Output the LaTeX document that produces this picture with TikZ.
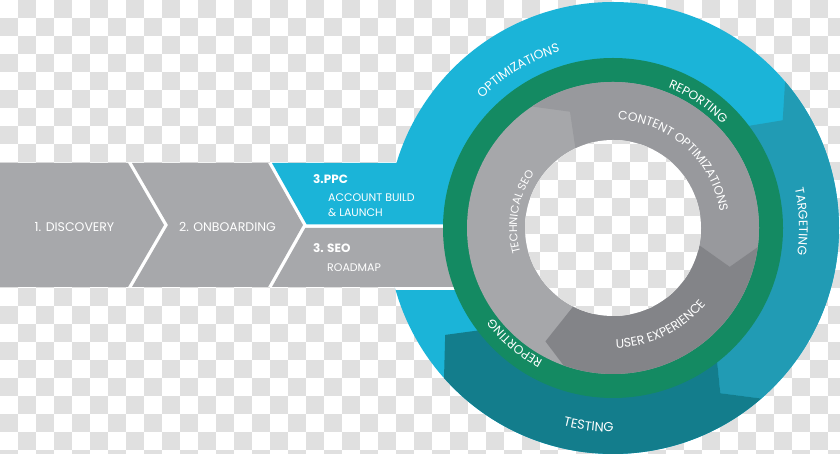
\documentclass[tikz,border=0pt]{standalone}
\usepackage{fontspec}
\setmainfont{Poppins}
\usetikzlibrary{decorations.text}
\definecolor{cLB}{HTML}{1BB4D8}
\definecolor{cTeal}{HTML}{219BB4}
\definecolor{cDark}{HTML}{137D8C}
\definecolor{cGreen}{HTML}{148A62}
\definecolor{cChev}{HTML}{A7A8AB}
\definecolor{cTech}{HTML}{A6A7AA}
\definecolor{cCont}{HTML}{98999D}
\definecolor{cUX}{HTML}{838488}
\definecolor{cCheck}{RGB}{224,224,224}
\tikzset{
  lbl/.style={text=white, inner sep=0pt, font=\fontsize{12.5}{14}\selectfont},
  sublbl/.style={text=white, inner sep=0pt, anchor=base west, font=\fontsize{11}{13}\selectfont},
  boldlbl/.style={text=white, inner sep=0pt, anchor=base west, font=\bfseries\fontsize{12}{14}\selectfont},
}
\begin{document}
\begin{tikzpicture}[x=1pt,y=1pt]
\useasboundingbox (0,0) rectangle (840,454);
\fill[white] (0,0) rectangle (840,454);
\begin{scope}
  \clip (0,0) rectangle (840,454);
  \foreach \yy in {0,36,...,432}{
    \foreach \xx in {18,54,...,846}{
      \fill[cCheck] (\xx,454-\yy) rectangle (\xx+18,436-\yy);
      \fill[cCheck] (\xx-18,436-\yy) rectangle (\xx,418-\yy);
    }
  }
\end{scope}
% outer ring
\begin{scope}[shift={(613,226)}]
  \fill[cLB] (0,0) circle (226);
  \fill[cTeal] (40.4:226) arc[start angle=40.4,end angle=-49,radius=226] -- (-57:197) -- (-52:169)
     arc[start angle=-52,end angle=37.1,radius=169] -- (32.4:201) -- cycle;
  \fill[cDark] (-49:226) arc[start angle=-49,end angle=-138.4,radius=226] -- (-147.5:199) -- (-142.7:169)
     arc[start angle=-142.7,end angle=-52,radius=169] -- (-57:197) -- cycle;
\end{scope}
% bars
\fill[white] (0,167) rectangle (480,291);
\fill[cChev] (0,291) -- (128,291) -- (164,229) -- (128,167) -- (0,167) -- cycle;
\fill[cChev] (132,291) -- (268,291) -- (303,229) -- (268,167) -- (132,167) -- (168,229) -- cycle;
\fill[cLB] (272,291) -- (480,291) -- (480,229.5) -- (306.7,229.5) -- cycle;
\fill[cChev] (305.3,226) -- (480,226) -- (480,167) -- (272,167) -- cycle;
\begin{scope}
  \clip (613,226) circle (226);
  \fill[white] (300,163.5) rectangle (480,167);
\end{scope}
% green ring
\fill[cGreen] (613,226) circle (170);
% grey ring
\fill[cTech] (613,226) circle (146);
\begin{scope}[shift={(613,226)}]
  \fill[cCont] (123.7:146) arc[start angle=123.7,end angle=-7.5,radius=146] -- (-18.4:123) -- (-10.7:86)
     arc[start angle=-10.7,end angle=115.7,radius=86] -- (110.3:124) -- cycle;
  \fill[cUX] (-7.5:146) arc[start angle=-7.5,end angle=-109.8,radius=146] -- (-120.8:132) -- (-116.6:86)
     arc[start angle=-116.6,end angle=-10.7,radius=86] -- (-18.4:123) -- cycle;
\end{scope}
% hole
\begin{scope}
  \clip (613,226) circle (88);
  \fill[white] (520,130) rectangle (710,320);
  \foreach \yy in {108,144,...,324}{
    \foreach \xx in {522,558,...,702}{
      \fill[cCheck] (\xx,454-\yy) rectangle (\xx+18,436-\yy);
      \fill[cCheck] (\xx-18,436-\yy) rectangle (\xx,418-\yy);
    }
  }
\end{scope}
% chevron labels
\node[lbl, anchor=base] (disc) at (74.5,222.3) {1. DISCOVERY};
\node[lbl, anchor=base] (onb) at (227.5,222.3) {2. ONBOARDING};
\node[boldlbl] (ppc) at (313,270.5) {3.PPC};
\node[sublbl] (acc) at (328,252) {ACCOUNT BUILD};
\node[sublbl] (lau) at (328,237) {\& LAUNCH};
\node[boldlbl] (seo) at (313,201) {3. SEO};
\node[sublbl] (road) at (327,182) {ROADMAP};
% ring labels
\begin{scope}[shift={(613,226)}]
  \path[decorate, decoration={text along path, text align=center,
    text={|\color{white}\fontsize{12.5}{14}\selectfont|OPTIMIZATIONS}}]
    (161:184) arc[start angle=161,end angle=81,radius=184];
  \path[decorate, decoration={text along path, text align=center,
    text={|\color{white}\fontsize{12.3}{14}\selectfont|REPORTING}}]
    (96:151) arc[start angle=96,end angle=16,radius=151];
  \path[decorate, decoration={text along path, text align=center,
    text={|\color{white}\fontsize{12.4}{14}\selectfont|TARGETING}}]
    (62:186) arc[start angle=62,end angle=-58,radius=186];
  \path[decorate, decoration={text along path, text align=center,
    text={|\color{white}\fontsize{13}{14}\selectfont|TESTING}}]
    (-157:204) arc[start angle=-157,end angle=-37,radius=204];
  \path[decorate, decoration={text along path, text align=center,
    text={|\color{white}\fontsize{12.3}{14}\selectfont|REPORTING}}]
    (-70.5:150) arc[start angle=-70.5,end angle=-190.5,radius=150];
  \path[decorate, decoration={text along path, text align=center,
    text={|\color{white}\fontsize{12.2}{14}\selectfont|CONTENT OPTIMIZATIONS}}]
    (108:108) arc[start angle=108,end angle=-12,radius=108];
  \path[decorate, decoration={text along path, text align=center,
    text={|\color{white}\fontsize{11.2}{13}\selectfont|TECHNICAL SEO}}]
    (230:96) arc[start angle=230,end angle=110,radius=96];
  \path[decorate, decoration={text along path, text align=center,
    text={|\color{white}\fontsize{12.5}{14}\selectfont|USER EXPERIENCE}}]
    (-124:120) arc[start angle=-124,end angle=-4,radius=120];
\end{scope}
\end{tikzpicture}
\end{document}
